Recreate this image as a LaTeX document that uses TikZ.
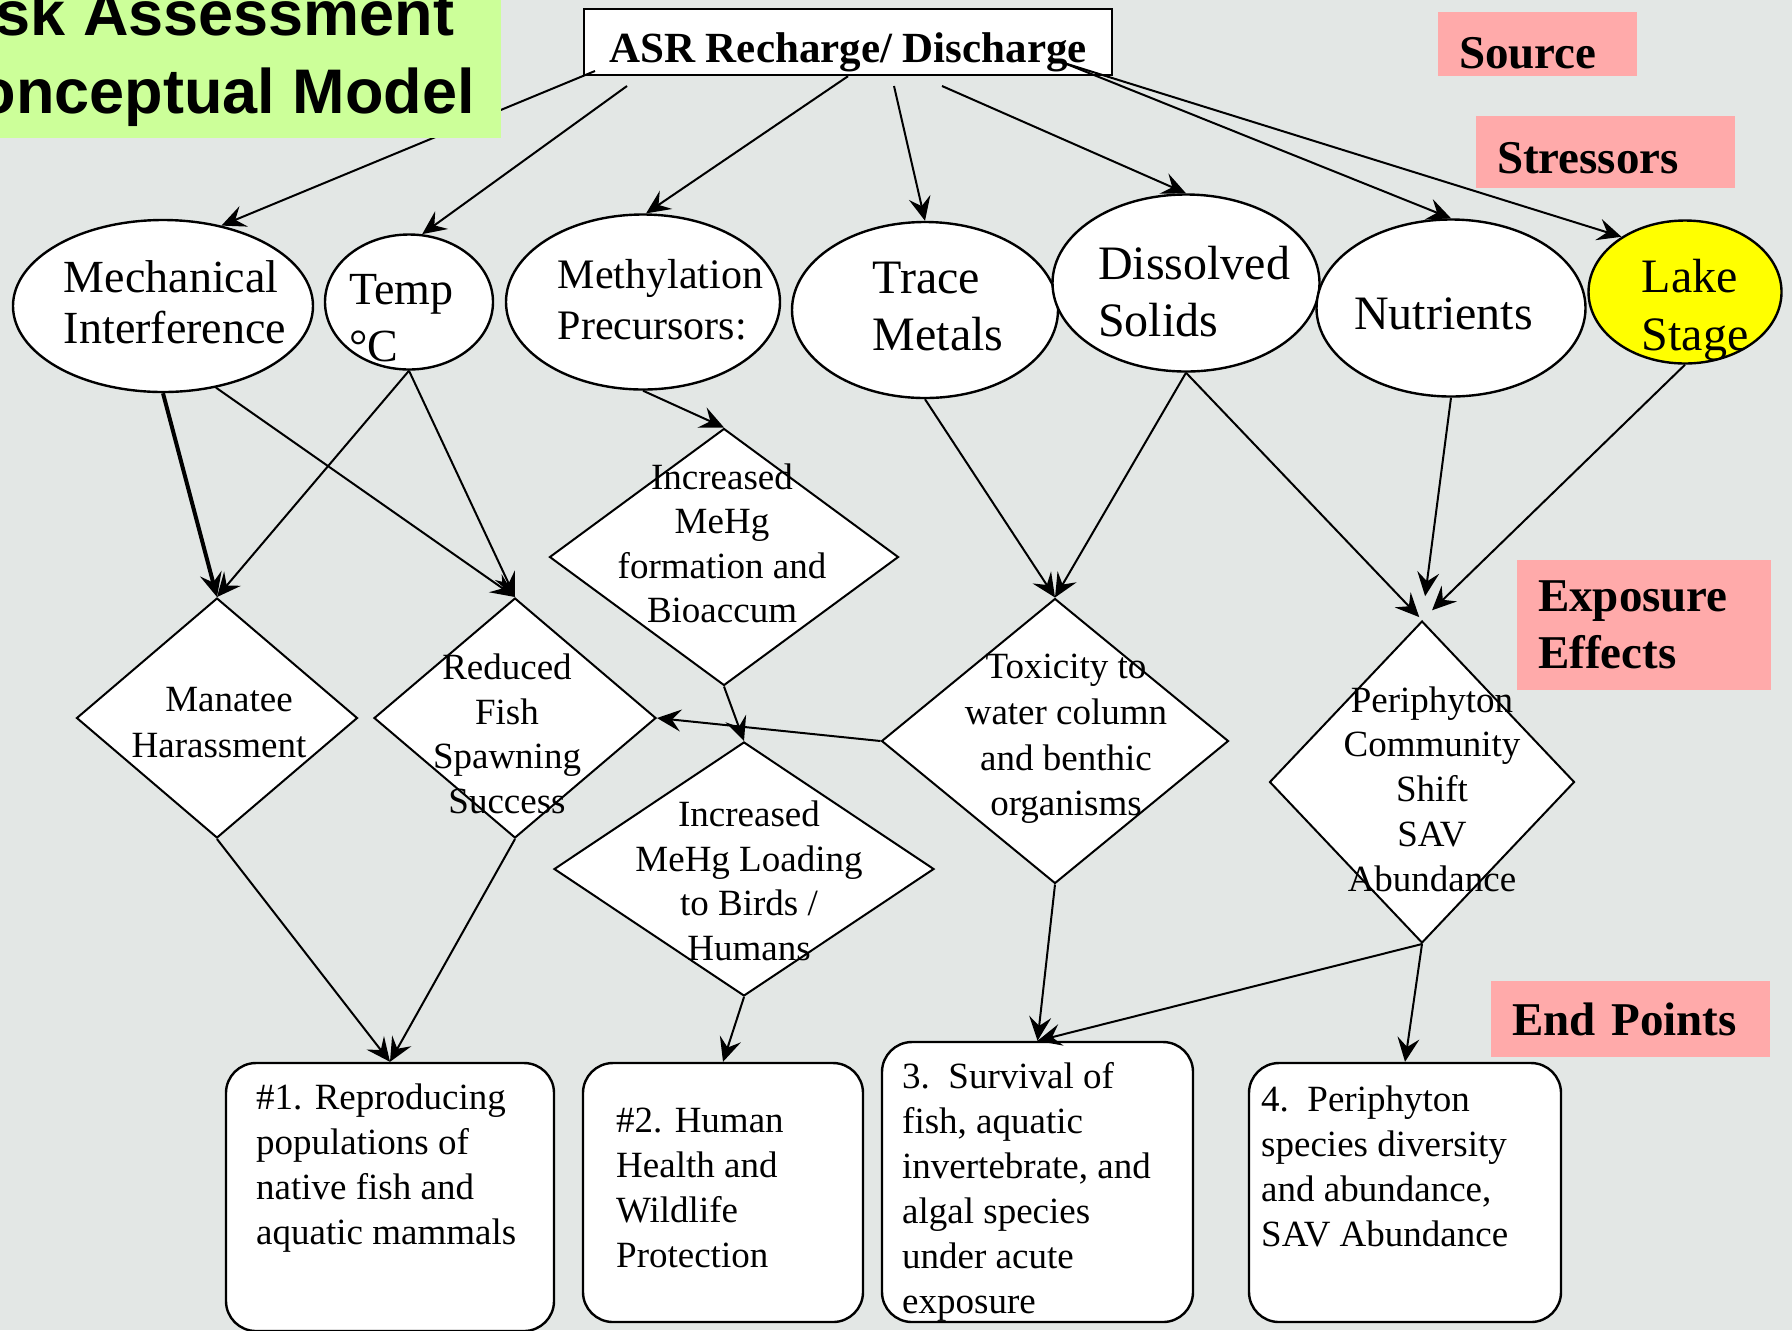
\documentclass[tikz,border=0pt]{standalone}
\usepackage{fontspec}
\setmainfont{Liberation Serif}
\newfontfamily\headfont{Liberation Sans}
\usetikzlibrary{arrows.meta, positioning, shapes.geometric}
\definecolor{slidegray}{RGB}{227,231,229}
\definecolor{titlegreen}{RGB}{204,255,153}
\definecolor{tagpink}{RGB}{255,170,170}
\definecolor{stageyellow}{RGB}{255,255,0}

\begin{document}
\begin{tikzpicture}[
        x=0.5pt, y=-0.5pt,
        stressor/.style={ellipse, draw, line width=1.2pt, fill=white, inner sep=0pt},
        effect/.style={diamond, draw, line width=1pt, fill=white, inner sep=0pt},
        endpt/.style={rectangle, rounded corners=15pt, draw, line width=1.2pt, fill=white, inner sep=0pt},
        tag/.style={fill=tagpink, inner xsep=10.5pt, inner ysep=0pt, align=left, font=\fontsize{23.5}{28.5}\selectfont\bfseries},
        etxt/.style={inner sep=0pt, align=center, font=\fontsize{24}{28.5}\selectfont},
        dtxt/.style={inner sep=0pt, align=center, font=\fontsize{18.5}{22.25}\selectfont},
        btxt/.style={inner sep=0pt, align=left, font=\fontsize{18.5}{22.5}\selectfont},
        titletxt/.style={inner sep=0pt, font=\headfont\bfseries\fontsize{31.5}{39}\selectfont},
        arr/.style={-{Stealth[length=12pt, width=11pt, inset=4.5pt]}, line width=1pt}
      ]
        \fill[slidegray] (0,0) rectangle (1792,1330);
        \useasboundingbox (0,0) rectangle (1792,1330);

        \node[draw, line width=1.2pt, fill=white, minimum width=264pt, minimum height=33pt, inner sep=0pt,
              text height=20pt, text depth=0pt, font=\fontsize{21.5}{26}\selectfont\bfseries] (asr) at (848,42) {ASR Recharge/ Discharge};

        \node[stressor, minimum width=150pt, minimum height=86pt] (mech) at (163,306) {};
        \node[stressor, minimum width=84pt, minimum height=67.5pt] (temp) at (409,302) {};
        \node[stressor, minimum width=137pt, minimum height=87.5pt] (methyl) at (643,302) {};
        \node[stressor, minimum width=133pt, minimum height=88pt] (trace) at (925,310) {};
        \node[stressor, minimum width=133.5pt, minimum height=88.5pt] (tds) at (1186,283) {};
        \node[stressor, minimum width=134.5pt, minimum height=88.5pt] (nutr) at (1451,308) {};
        \node[stressor, fill=stageyellow, minimum width=96.5pt, minimum height=71.5pt] (lake) at (1685,292) {};

        \node[etxt, align=left, font=\fontsize{23}{25.5}\selectfont, xshift=6pt, yshift=2pt] (mechtxt) at (mech) {Mechanical\\Interference};
        \node[etxt, align=left, font=\fontsize{23}{28.5}\selectfont, xshift=-3.75pt, yshift=-8pt] (temptxt) at (temp) {Temp\\°C};
        \node[etxt, align=left, font=\fontsize{21}{25.5}\selectfont, xshift=8.75pt, yshift=1pt] (methyltxt) at (methyl) {Methylation\\Precursors:};
        \node[etxt, align=left, xshift=6.5pt, yshift=1.5pt] (tracetxt) at (trace) {Trace\\Metals};
        \node[etxt, align=left, xshift=4pt, yshift=-4.5pt] (tdstxt) at (tds) {Dissolved\\Solids};
        \node[etxt, xshift=-3.75pt, yshift=-3pt] (nutrtxt) at (nutr) {Nutrients};
        \node[etxt, align=left, font=\fontsize{24}{29}\selectfont, xshift=5pt, yshift=-9pt] (laketxt) at (lake) {Lake\\Stage};

        \node[effect, minimum width=140.5pt, minimum height=120pt] (manatee) at (217,718) {};
        \node[effect, minimum width=141pt, minimum height=120pt] (spawn) at (515,718) {};
        \node[effect, minimum width=174.5pt, minimum height=128.5pt] (mehg) at (724,557) {};
        \node[effect, minimum width=190pt, minimum height=127pt] (loading) at (744,869) {};
        \node[effect, minimum width=173.5pt, minimum height=142.5pt] (toxic) at (1055,741) {};
        \node[effect, minimum width=152.5pt, minimum height=161pt] (periph) at (1422,782) {};

        \node[dtxt, font=\fontsize{18.5}{23}\selectfont, xshift=1pt, yshift=-2.25pt] (manateetxt) at (manatee) {\hspace*{10pt}Manatee\\Harassment};
        \node[dtxt, xshift=-4pt, yshift=-8pt] (spawntxt) at (spawn) {Reduced\\Fish\\Spawning\\Success};
        \node[dtxt, xshift=-1pt, yshift=6.75pt] (mehgtxt) at (mehg) {Increased\\MeHg\\formation and\\Bioaccum};
        \node[dtxt, xshift=2.5pt, yshift=-6pt] (loadingtxt) at (loading) {Increased\\MeHg Loading\\to Birds /\\Humans};
        \node[dtxt, font=\fontsize{18.5}{22.9}\selectfont, xshift=5.5pt, yshift=1pt] (toxictxt) at (toxic) {Toxicity to\\water column\\and benthic\\organisms};
        \node[dtxt, font=\fontsize{18.5}{22.4}\selectfont, xshift=5pt, yshift=-3.5pt] (periphtxt) at (periph) {Periphyton\\Community\\Shift\\SAV\\Abundance};

        \node[endpt, minimum width=164pt, minimum height=134pt] (ep1) at (390,1197) {};
        \node[endpt, minimum width=140pt, minimum height=129.5pt] (ep2) at (723,1192.5) {};
        \node[endpt, minimum width=155.5pt, minimum height=140pt] (ep3) at (1037.5,1182) {};
        \node[endpt, minimum width=156pt, minimum height=129.5pt] (ep4) at (1405,1192.5) {};

        \node[btxt, below right=11pt and 15.5pt of ep1.north west] (ep1txt) {\#1. Reproducing\\populations of\\native fish and\\aquatic mammals};
        \node[btxt, below right=23pt and 17pt of ep2.north west] (ep2txt) {\#2. Human\\Health and\\Wildlife\\Protection};
        \node[btxt, below right=10.5pt and 10.5pt of ep3.north west] (ep3txt) {3.\ \ Survival of\\fish, aquatic\\invertebrate, and\\algal species\\under acute\\exposure};
        \node[btxt, below right=11.75pt and 6.5pt of ep4.north west] (ep4txt) {4.\ \ Periphyton\\species diversity\\and abundance,\\SAV Abundance};

        \node[tag, minimum width=99.5pt, minimum height=32pt, text width=78.5pt, text height=24pt, text depth=0pt] (srctag) at (1537.5,44) {Source};
        \node[tag, minimum width=128.5pt, minimum height=36pt, text width=108.5pt, text height=21pt, text depth=0pt] (strtag) at (1605.5,152) {Stressors};
        \node[tag, minimum width=127pt, minimum height=65pt, text width=106pt, yshift=-2pt] (exptag) at (1644,621) {Exposure\\Effects};
        \node[tag, minimum width=139.5pt, minimum height=38pt, text width=118.5pt] (endtag) at (1630.5,1019) {End Points};

        \coordinate (outMech) at (595,71);
        \coordinate (outTemp) at (627,86);
        \coordinate (outTrace) at (894,86);
        \coordinate (outTds) at (942,86);
        \coordinate (outNutr) at (1064,63);

        \draw[arr] (outMech) -- (mech.54);
        \draw[arr] (outTemp) -- (temp.79);
        \draw[arr] (asr.south) -- (methyl.88);
        \draw[arr] (outTrace) -- (trace.north);
        \draw[arr] (outTds) -- (tds.north);
        \draw[arr] (outNutr) -- (nutr.north);
        \draw[arr] (outNutr) -- (lake.139);

        \draw[arr, line width=2pt] (mech.south) -- (manatee.north);
        \draw[arr] (mech.-57) -- (spawn.north);
        \draw[arr] (temp.south) -- (manatee.north);
        \draw[arr] (temp.south) -- (spawn.north);
        \draw[arr] (methyl.south) -- (mehg.north);
        \draw[arr] (trace.south) -- (toxic.north);
        \draw[arr] (tds.south) -- (toxic.north);
        \draw[arr, shorten >=2pt] (tds.south) -- (periph.north);
        \draw[arr, shorten >=12pt] (nutr.south) -- (periph.north);
        \draw[arr, shorten >=7pt] (lake.south) -- (periph.north);
        \draw[arr] (mehg.south) -- (loading.north);
        \draw[arr] (toxic.west) -- (spawn.east);
        \draw[arr] (manatee.south) -- (ep1.north);
        \draw[arr] (spawn.south) -- (ep1.north);
        \draw[arr] (loading.south) -- (ep2.north);
        \draw[arr] (toxic.south) -- (ep3.north);
        \draw[arr] (periph.south) -- (ep3.north);
        \draw[arr] (periph.south) -- (ep4.north);

        \node[fill=titlegreen, minimum width=250.5pt, minimum height=69pt, inner sep=0pt, anchor=north west] (titlebox) at (0,0) {};
        \node[titletxt, anchor=base east] (title1) at (455,35) {sk Assessment};
        \node[titletxt, anchor=base east] (title2) at (475,113) {onceptual Model};
      \end{tikzpicture}
\end{document}
